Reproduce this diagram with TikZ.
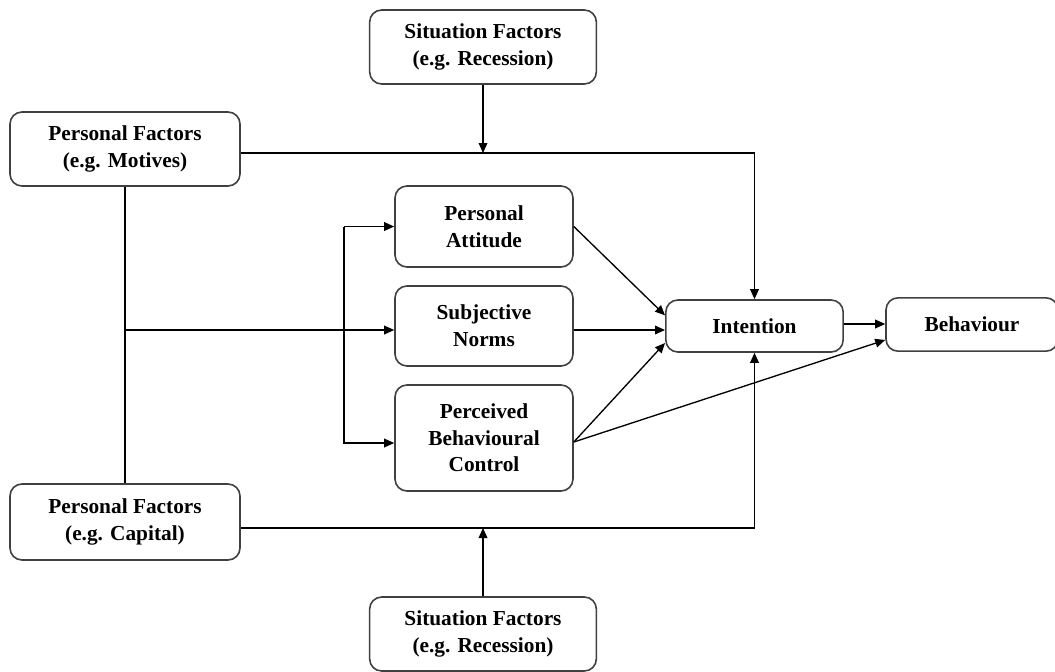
\documentclass[tikz,border=0pt]{standalone}
\usepackage{fontspec}
\setmainfont{Liberation Serif}
\usetikzlibrary{arrows.meta}

\begin{document}
\begin{tikzpicture}[x=0.75pt,y=-0.75pt,
    factor/.style={draw=black!75,line width=1.2pt,rounded corners=9pt,align=center,
      font=\fontsize{16}{20}\selectfont\bfseries,inner sep=0pt},
    arr/.style={-{Triangle[length=7.5pt,width=6.5pt]},line width=1pt}]
    \useasboundingbox (0,0) rectangle (1055,671);
    % outer factors
    \node[factor,minimum width=170pt,minimum height=55.5pt] (sitT) at (483,47) {Situation Factors\\(e.g. Recession)};
    \node[factor,minimum width=172.5pt,minimum height=55.5pt] (pfM) at (125,149) {Personal Factors\\(e.g. Motives)};
    \node[factor,minimum width=172.5pt,minimum height=57pt] (pfC) at (125,522) {Personal Factors\\(e.g. Capital)};
    \node[factor,minimum width=170pt,minimum height=55.5pt] (sitB) at (483,634) {Situation Factors\\(e.g. Recession)};
    % theory of planned behaviour
    \node[factor,minimum width=133.5pt,minimum height=60.75pt] (att) at (484,226.5) {Personal\\Attitude};
    \node[factor,minimum width=133.5pt,minimum height=60pt] (nrm) at (484,326) {Subjective\\Norms};
    \node[factor,minimum width=133.5pt,minimum height=79.5pt] (pbc) at (484,438) {Perceived\\Behavioural\\Control};
    \node[factor,minimum width=133pt,minimum height=39pt] (int) at (754.5,326) {Intention};
    \node[factor,minimum width=129pt,minimum height=40pt] (beh) at (972,324.5) {Behaviour};
    % junctions
    \coordinate (jm) at ([yshift=-3pt]pfM.east);
    \coordinate (jc) at ([yshift=-4.5pt]pfC.east);
    \coordinate (jn) at ([yshift=-3pt]nrm.west);
    \coordinate (br) at (344,0);
    \coordinate (pbcin) at ([yshift=-3.75pt]pbc.west);
    \coordinate (pbcout) at ([yshift=-3pt]pbc.east);
    \draw[arr] (jm) -| (int.north);
    \draw[arr] (sitT.south) -- (sitT.south |- jm);
    \draw[arr] (jc) -| (int.south);
    \draw[arr] (sitB.north) -- (sitB.north |- jc);
    \draw[line width=1pt] (pfM.south) -- (pfC.north);
    \draw[arr] (pfM.south |- jn) -- (jn);
    \draw[arr] (br |- att.west) -- (att.west);
    \draw[arr] (br |- att.west) -- (br |- pbcin) -- (pbcin);
    \draw[arr] (att.east) -- ([yshift=8pt]int.west);
    \draw[arr] (jn -| nrm.east) -- (jn -| int.west);
    \draw[arr] (pbcout) -- ([yshift=-12.75pt]int.west);
    \draw[arr] (pbcout) -- ([yshift=-11.6pt]beh.west);
    \draw[arr] ([yshift=1.5pt]int.east) -- ([yshift=1.5pt]int.east -| beh.west);
\end{tikzpicture}
\end{document}
